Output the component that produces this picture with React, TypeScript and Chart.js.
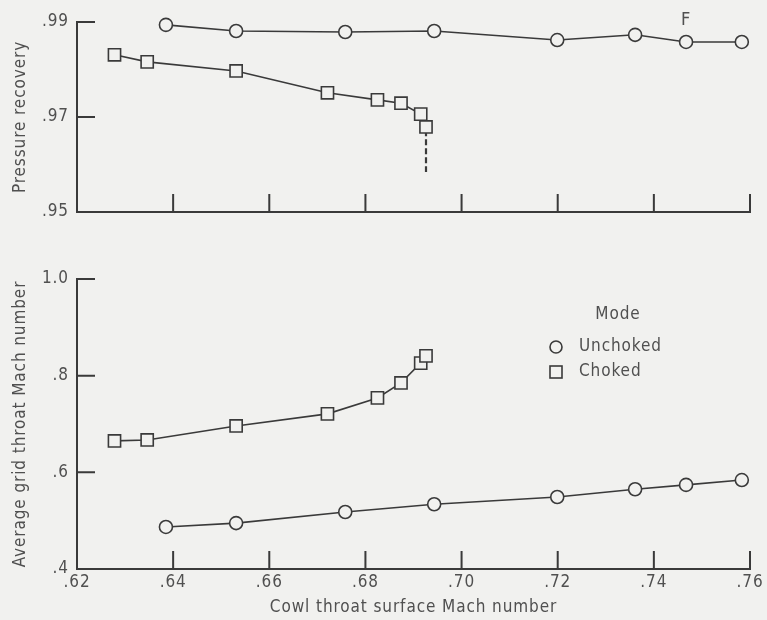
import React, { useEffect, useRef } from "react";
import { Chart, registerables } from "chart.js";

Chart.register(...registerables);

// ---- data ----
const unchokedX = [0.6385, 0.6531, 0.6758, 0.6943, 0.7199, 0.7361, 0.7467, 0.7583];
const unchokedRecovery = [0.9894, 0.9881, 0.9879, 0.9881, 0.9862, 0.9873, 0.9858, 0.9858];
const unchokedGridMach = [0.487, 0.495, 0.518, 0.534, 0.549, 0.565, 0.574, 0.584];

const chokedX = [0.6278, 0.6346, 0.6531, 0.6721, 0.6825, 0.6874, 0.6915, 0.6926];
const chokedRecovery = [0.9831, 0.9816, 0.9797, 0.9751, 0.9736, 0.9729, 0.9706, 0.9679];
const chokedGridMach = [0.665, 0.667, 0.696, 0.721, 0.754, 0.785, 0.826, 0.841];

// dashed drop line below last choked point (top panel)
const dropX = [0.6926, 0.6926];
const dropRecovery = [0.9672, 0.9584];

// flag "F" on unchoked point
const flagText = "F";
const flagX = 0.7467;
const flagY = 0.9858;

const xTickValues = [0.62, 0.64, 0.66, 0.68, 0.7, 0.72, 0.74, 0.76];
const xTickLabels = [".62", ".64", ".66", ".68", ".70", ".72", ".74", ".76"];
const recoveryTickValues = [0.95, 0.97, 0.99];
const recoveryTickLabels = [".95", ".97", ".99"];
const machTickValues = [0.4, 0.6, 0.8, 1.0];
const machTickLabels = [".4", ".6", ".8", "1.0"];

const legendTitle = "Mode";
const legendLabels = ["Unchoked", "Choked"];

// ---- style ----
const BG = "#f1f1ef";
const INK = "#3a3a3a";
const TEXT = "#505050";
const FONT_FAMILY = "'DejaVu Sans Condensed', 'DejaVu Sans', sans-serif";
const FONT = { family: FONT_FAMILY, size: 17 };
const SPACING = "0.9px";

const W = 767;
const TOP_H = 232;
const BOT_H = 388;

function pts(xs: number[], ys: number[]) {
  return xs.map((x, i) => ({ x, y: ys[i] }));
}

function fixedTicks(values: number[]) {
  return (scale: any) => {
    scale.ticks = values.map((v) => ({ value: v }));
  };
}

const spacingPlugin = {
  id: "letterSpacing",
  beforeUpdate(chart: any) {
    chart.ctx.letterSpacing = SPACING;
  },
  beforeDraw(chart: any) {
    chart.ctx.letterSpacing = SPACING;
  },
};

const inwardTicks = (xVals: number[], yVals: number[]) => ({
  id: "inwardTicks",
  beforeDatasetsDraw(chart: any) {
    const { ctx, chartArea, scales } = chart;
    ctx.save();
    ctx.strokeStyle = INK;
    ctx.lineWidth = 2;
    ctx.beginPath();
    xVals.forEach((v) => {
      const px = scales.x.getPixelForValue(v);
      ctx.moveTo(px, chartArea.bottom);
      ctx.lineTo(px, chartArea.bottom - 18);
    });
    yVals.forEach((v) => {
      const py = scales.y.getPixelForValue(v);
      ctx.moveTo(chartArea.left, py);
      ctx.lineTo(chartArea.left + 18, py);
    });
    ctx.stroke();
    ctx.restore();
  },
});

const flagPlugin = {
  id: "flag",
  afterDatasetsDraw(chart: any) {
    const { ctx, scales } = chart;
    const px = scales.x.getPixelForValue(flagX);
    const py = scales.y.getPixelForValue(flagY);
    ctx.save();
    ctx.fillStyle = TEXT;
    ctx.font = `18px ${FONT_FAMILY}`;
    ctx.textAlign = "center";
    ctx.textBaseline = "middle";
    ctx.fillText(flagText, px, py - 22);
    ctx.restore();
  },
};

const legendPlugin = {
  id: "modeLegend",
  afterDraw(chart: any) {
    const { ctx, chartArea } = chart;
    const markX = chartArea.right - 194;
    const textX = markX + 23;
    const titleY = chartArea.top + 36;
    const row1 = chartArea.top + 68;
    const row2 = chartArea.top + 93;
    ctx.save();
    ctx.fillStyle = TEXT;
    ctx.font = `17px ${FONT_FAMILY}`;
    ctx.textBaseline = "middle";
    ctx.textAlign = "center";
    ctx.fillText(legendTitle, markX + 62, titleY);
    ctx.textAlign = "left";
    ctx.fillText(legendLabels[0], textX, row1);
    ctx.fillText(legendLabels[1], textX, row2);
    ctx.strokeStyle = INK;
    ctx.lineWidth = 1.6;
    ctx.beginPath();
    ctx.arc(markX, row1, 6, 0, Math.PI * 2);
    ctx.stroke();
    ctx.strokeRect(markX - 6, row2 - 6, 12, 12);
    ctx.restore();
  },
};

function seriesStyle(style: "circle" | "rect") {
  return {
    borderColor: INK,
    borderWidth: 1.6,
    pointStyle: style,
    pointRadius: style === "circle" ? 6.5 : 8.6,
    pointBorderWidth: 1.6,
    pointBorderColor: INK,
    pointBackgroundColor: BG,
    tension: 0,
    clip: false as any,
  };
}

function makeOptions(opts: {
  padTop: number;
  xHeight: number;
  showXLabels: boolean;
  yMin: number;
  yMax: number;
  yVals: number[];
  yLabels: string[];
  yTitle: string;
}) {
  return {
    responsive: false,
    maintainAspectRatio: false,
    animation: false as const,
    events: [],
    layout: { padding: { left: 0, right: 17, top: opts.padTop, bottom: 0 } },
    plugins: { legend: { display: false }, tooltip: { enabled: false } },
    scales: {
      x: {
        type: "linear" as const,
        min: 0.62,
        max: 0.76,
        afterBuildTicks: fixedTicks(xTickValues),
        afterFit: (s: any) => {
          s.height = opts.xHeight;
        },
        grid: { display: false, drawTicks: false },
        border: { display: true, color: INK, width: 2 },
        ticks: {
          display: opts.showXLabels,
          font: FONT,
          color: TEXT,
          padding: 3,
          maxRotation: 0,
          autoSkip: false,
          callback: (_v: any, i: number) => xTickLabels[i],
        },
        title: {
          display: opts.showXLabels,
          text: "Cowl throat surface Mach number",
          font: FONT,
          color: TEXT,
          padding: { top: 0, bottom: 2 },
        },
      },
      y: {
        type: "linear" as const,
        min: opts.yMin,
        max: opts.yMax,
        afterBuildTicks: fixedTicks(opts.yVals),
        afterFit: (s: any) => {
          s.width = 77;
        },
        grid: { display: false, drawTicks: false },
        border: { display: true, color: INK, width: 2 },
        ticks: {
          font: FONT,
          color: TEXT,
          padding: 8,
          autoSkip: false,
          callback: (_v: any, i: number) => opts.yLabels[i],
        },
        title: {
          display: true,
          text: opts.yTitle,
          font: FONT,
          color: TEXT,
          padding: { top: 10, bottom: 0 },
        },
      },
    },
  };
}

export default function App() {
  const topRef = useRef<HTMLCanvasElement>(null);
  const botRef = useRef<HTMLCanvasElement>(null);

  useEffect(() => {
    document.body.style.margin = "0";
    const top = new Chart(topRef.current!, {
      type: "line",
      data: {
        datasets: [
          { label: "Unchoked", data: pts(unchokedX, unchokedRecovery), ...seriesStyle("circle") },
          { label: "Choked", data: pts(chokedX, chokedRecovery), ...seriesStyle("rect") },
          {
            label: "drop",
            data: pts(dropX, dropRecovery),
            borderColor: INK,
            borderWidth: 2.2,
            borderDash: [6, 3],
            pointRadius: 0,
            clip: false as any,
          },
        ],
      },
      options: makeOptions({
        padTop: 22,
        xHeight: 20,
        showXLabels: false,
        yMin: 0.95,
        yMax: 0.99,
        yVals: recoveryTickValues,
        yLabels: recoveryTickLabels,
        yTitle: "Pressure recovery",
      }) as any,
      plugins: [spacingPlugin, inwardTicks(xTickValues, recoveryTickValues), flagPlugin],
    });

    const bot = new Chart(botRef.current!, {
      type: "line",
      data: {
        datasets: [
          { label: "Unchoked", data: pts(unchokedX, unchokedGridMach), ...seriesStyle("circle") },
          { label: "Choked", data: pts(chokedX, chokedGridMach), ...seriesStyle("rect") },
        ],
      },
      options: makeOptions({
        padTop: 47,
        xHeight: 51,
        showXLabels: true,
        yMin: 0.4,
        yMax: 1.0,
        yVals: machTickValues,
        yLabels: machTickLabels,
        yTitle: "Average grid throat Mach number",
      }) as any,
      plugins: [spacingPlugin, inwardTicks(xTickValues, machTickValues), legendPlugin],
    });

    return () => {
      top.destroy();
      bot.destroy();
    };
  }, []);

  return (
    <div
      style={{
        position: "absolute",
        left: 0,
        top: 0,
        width: W,
        height: TOP_H + BOT_H,
        background: BG,
      }}
    >
      <canvas
        ref={topRef}
        width={W}
        height={TOP_H}
        style={{ position: "absolute", left: 0, top: 0, width: W, height: TOP_H }}
      />
      <canvas
        ref={botRef}
        width={W}
        height={BOT_H}
        style={{ position: "absolute", left: 0, top: TOP_H, width: W, height: BOT_H }}
      />
    </div>
  );
}
